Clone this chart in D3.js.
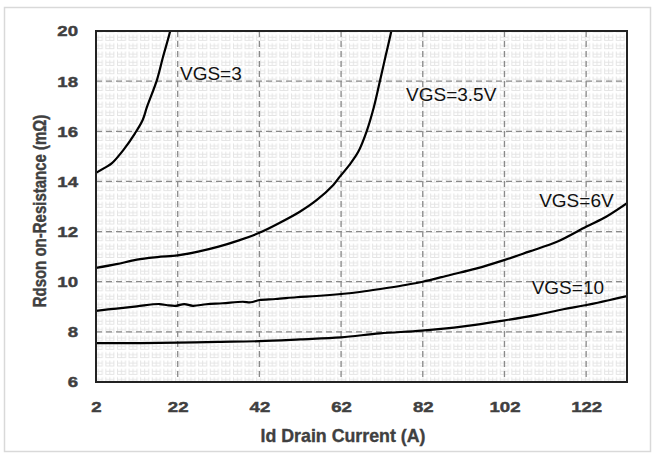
<!DOCTYPE html>
<meta charset="utf-8">
<title>Rdson vs Id</title>
<script src="https://d3js.org/d3.v7.min.js"></script>
<style>
	body { margin: 0; background: #fff; font-family: "Liberation Sans", Arial, sans-serif; }
	.tick text { font-weight: bold; fill: #404040; stroke: #404040; stroke-width: 0.45; font-size: 15.5px; font-family: "Liberation Sans", Arial, sans-serif; }
	.grid line { stroke: #8a8a8a; stroke-width: 1.3; stroke-dasharray: 6,4; }
	.curve { fill: none; stroke: #000; stroke-width: 2.2; }
	.lbl { font-size: 19px; fill: #111; }
	.ttl { font-weight: bold; fill: #404040; stroke: #404040; stroke-width: 0.35; }
</style>
<body>
<div id="chart"></div>
<script>

// x ticks and y ticks
var xTicks = [2, 22, 42, 62, 82, 102, 122];
var yTicks = [6, 8, 10, 12, 14, 16, 18, 20];

// [Id (A), Rdson (mOhm)]
var vgs3 = [[2,14.34],[4,14.53],[5.84,14.72],[8.68,15.25],[11.55,15.92],[13.43,16.45],[14.48,16.97],[16.93,18.05],[18.4,18.96],[20.1,19.96],[20.5,20.3]];
var vgs35 = [[2,10.55],[7,10.7],[12,10.88],[17,10.98],[22,11.05],[27,11.2],[32,11.4],[37,11.65],[42,11.95],[47,12.35],[51.9,12.79],[56,13.25],[60.1,13.86],[61.7,14.19],[64,14.65],[66.2,15.18],[68.3,16.02],[70,16.95],[71.5,18.0],[72.9,19.0],[74.3,20],[74.6,20.3]];
var vgs6 = [[2,8.84],[7,8.93],[12,9.02],[17.5,9.11],[19.5,9.06],[21.6,9.04],[23.6,9.11],[25.7,9.04],[29,9.1],[33,9.14],[37.9,9.2],[39.9,9.18],[42,9.27],[46,9.31],[51,9.38],[56,9.43],[62,9.51],[67,9.6],[72,9.72],[77,9.85],[82,10.0],[88.7,10.27],[95,10.52],[101.7,10.85],[108,11.2],[115,11.6],[122.1,12.2],[127,12.6],[132,13.13]];
var vgs10 = [[2,7.55],[12,7.55],[22,7.57],[32,7.6],[42,7.63],[52,7.7],[62,7.78],[71.5,7.94],[81.7,8.05],[92,8.22],[101.7,8.45],[110,8.68],[116.4,8.9],[122.1,9.07],[132,9.43]];

var series = [vgs3, vgs35, vgs6, vgs10];
var labels = ["VGS=3", "VGS=3.5V", "VGS=6V", "VGS=10"];
// label anchor points (left, baseline) in data units
var labelPos = [[22.56, 18.05], [77.9, 17.22], [110.5, 12.97], [108.66, 9.51]];

var W = 656, H = 457;
var m = {left: 96, top: 31, right: 627, bottom: 382};
var sx = 1.2; // tick digits are drawn wide

var svg = d3.select("#chart").append("svg")
	.attr("width", W).attr("height", H);

// outer frame
svg.append("rect")
	.attr("x", 4.5).attr("y", 7.5).attr("width", 646).attr("height", 444)
	.attr("fill", "#fff").attr("stroke", "#d9d9d9").attr("stroke-width", 1.5);

var x = d3.scaleLinear().domain([2, 132]).range([m.left, m.right]);
var y = d3.scaleLinear().domain([6, 20]).range([m.bottom, m.top]);

// background texture pattern
var defs = svg.append("defs");
var pat = defs.append("pattern")
	.attr("id", "tex").attr("patternUnits", "userSpaceOnUse")
	.attr("width", 11.6).attr("height", 8.35);
pat.append("path")
	.attr("d", "M1.5,1.5 V7 H9.5 V1.5 M5.5,1.5 V7 M1.5,4 H9.5")
	.attr("fill", "none").attr("stroke", "#e4e4e4").attr("stroke-width", 1);

defs.append("clipPath").attr("id", "clip")
	.append("rect").attr("x", m.left).attr("y", m.top)
	.attr("width", m.right - m.left).attr("height", m.bottom - m.top);

svg.append("rect")
	.attr("x", m.left).attr("y", m.top)
	.attr("width", m.right - m.left).attr("height", m.bottom - m.top)
	.attr("fill", "url(#tex)");

// grid
var grid = svg.append("g").attr("class", "grid");
grid.selectAll(".vx").data(xTicks.slice(1)).enter().append("line")
	.attr("x1", d => x(d)).attr("x2", d => x(d))
	.attr("y1", m.top).attr("y2", m.bottom);
grid.selectAll(".hy").data(yTicks.slice(1, -1)).enter().append("line")
	.attr("x1", m.left).attr("x2", m.right)
	.attr("y1", d => y(d)).attr("y2", d => y(d));

// axes (labels only)
var xAxis = svg.append("g")
	.attr("transform", "translate(0," + m.bottom + ")")
	.call(d3.axisBottom(x).tickValues(xTicks).tickSize(0).tickPadding(19));
var yAxis = svg.append("g")
	.attr("transform", "translate(" + m.left + ",0)")
	.call(d3.axisLeft(y).tickValues(yTicks).tickSize(0).tickPadding(18));
xAxis.select(".domain").remove();
yAxis.select(".domain").remove();
xAxis.attr("font-family", null);
yAxis.attr("font-family", null);
xAxis.selectAll("text").attr("transform", "scale(" + sx + ",1)");
yAxis.selectAll("text").attr("x", -18 / sx).attr("transform", "scale(" + sx + ",1)");

// curves
var line = d3.line()
	.x(d => x(d[0])).y(d => y(d[1]))
	.curve(d3.curveCatmullRom.alpha(0.5));

svg.append("g").attr("clip-path", "url(#clip)")
	.selectAll("path").data(series).enter().append("path")
	.attr("class", "curve")
	.attr("d", line);

svg.selectAll(".lbl").data(labels).enter().append("text")
	.attr("class", "lbl")
	.attr("x", (d, i) => x(labelPos[i][0]))
	.attr("y", (d, i) => y(labelPos[i][1]))
	.text(d => d);

// plot border
svg.append("rect")
	.attr("x", m.left).attr("y", m.top)
	.attr("width", m.right - m.left).attr("height", m.bottom - m.top)
	.attr("fill", "none").attr("stroke", "#222").attr("stroke-width", 2);

// axis titles
svg.append("text")
	.attr("class", "ttl")
	.attr("x", 343).attr("y", 441.5)
	.attr("text-anchor", "middle")
	.attr("font-size", 17.8)
	.text("Id Drain Current (A)");

svg.append("text")
	.attr("class", "ttl")
	.attr("transform", "translate(46,211) rotate(-90) scale(1,1.18)")
	.attr("text-anchor", "middle")
	.attr("font-size", 15)
	.text("Rdson on-Resistance (mΩ)");

</script>
